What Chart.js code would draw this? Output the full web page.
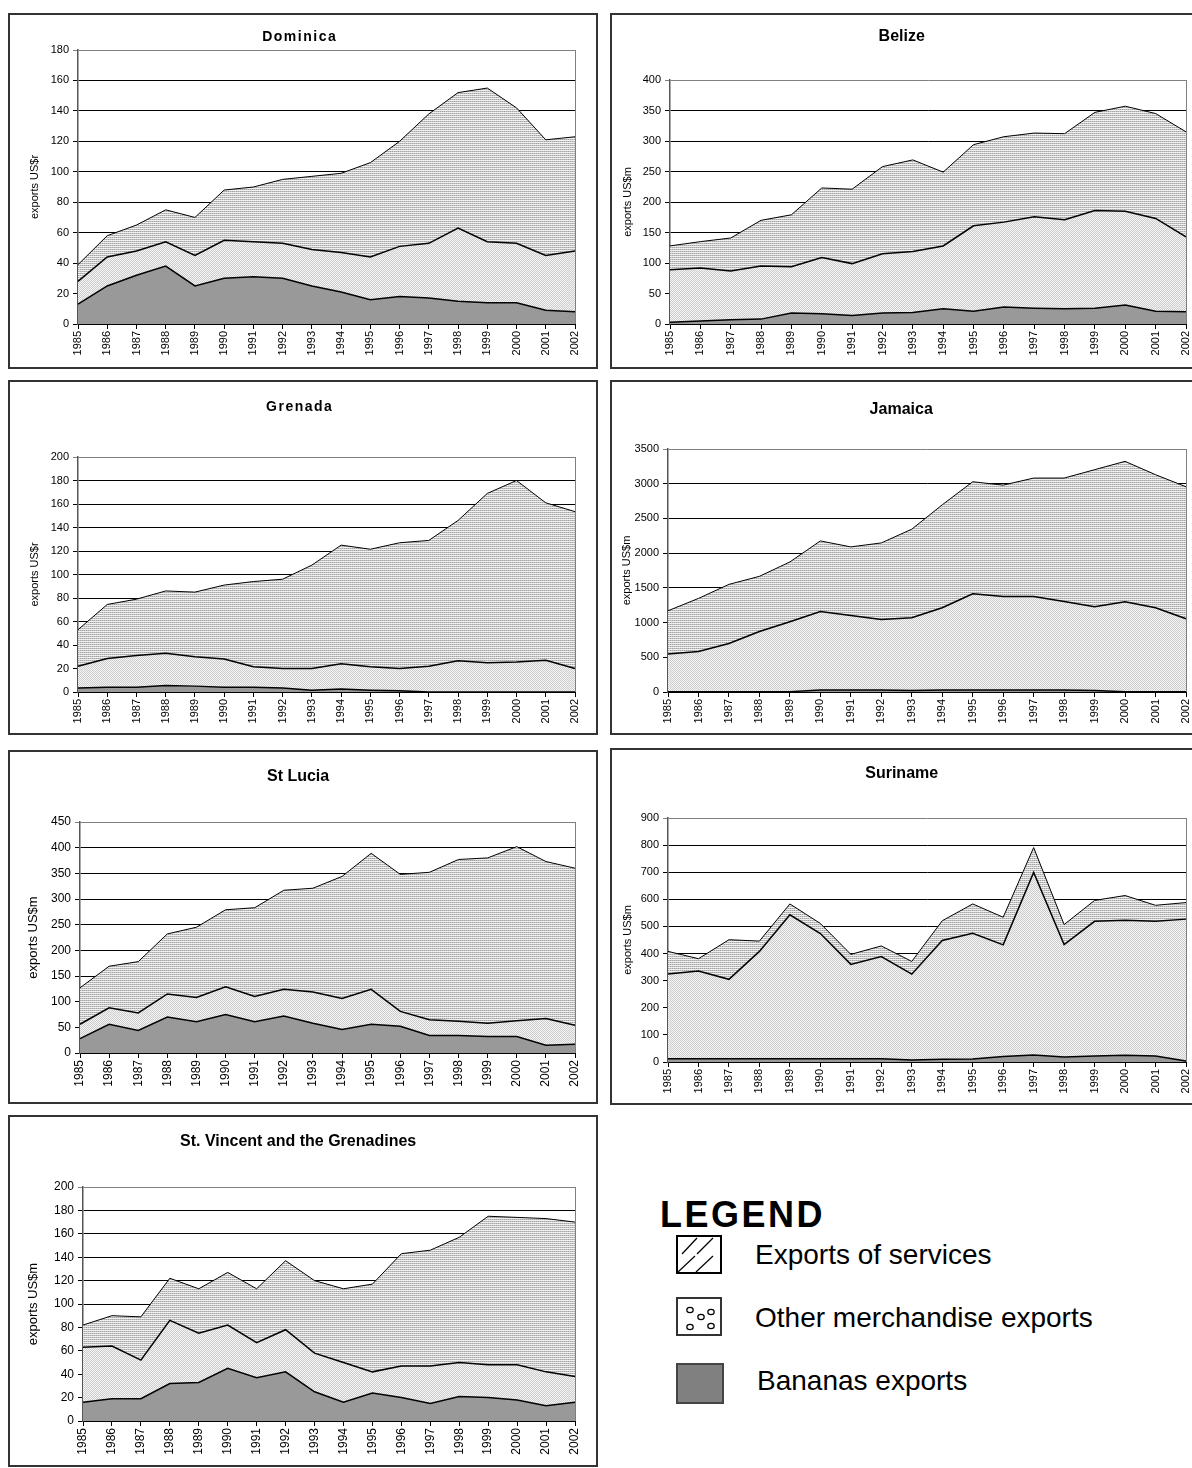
<!DOCTYPE html>
<html>
<head>
<meta charset="utf-8">
<script src="https://cdn.jsdelivr.net/npm/chart.js@4.4.0/dist/chart.umd.min.js"></script>
<style>
html, body { margin: 0; padding: 0; background: #fff; }
body { width: 1192px; height: 1468px; overflow: hidden; position: relative; font-family: "Liberation Sans", Arial, sans-serif; }
.panel { position: absolute; border: 2px solid #333; box-sizing: border-box; background: #fff; overflow: hidden; }
.panel canvas { position: absolute; left: 0; top: 0; }
.legend-title { position: absolute; left: 660px; top: 1194px; font-size: 36px; line-height: 42px; font-weight: bold; letter-spacing: 2.5px; }
.legend-item { position: absolute; font-size: 28px; line-height: 32px; color: #000; }
.legend-icon { position: absolute; }
</style>
</head>
<body>

<div class="legend-title">LEGEND</div>
<canvas class="legend-icon" id="iconServices" width="46" height="39" style="left:676px;top:1235px"></canvas>
<div class="legend-item" style="left:755px;top:1239px">Exports of services</div>
<canvas class="legend-icon" id="iconOther" width="46" height="39" style="left:676px;top:1297px"></canvas>
<div class="legend-item" style="left:755px;top:1302px">Other merchandise exports</div>
<canvas class="legend-icon" id="iconBananas" width="48" height="41" style="left:676px;top:1363px"></canvas>
<div class="legend-item" style="left:757px;top:1365px">Bananas exports</div>

<script>

// ==========================================
// Data
// ==========================================

const years = ["1985", "1986", "1987", "1988", "1989", "1990", "1991", "1992", "1993",
    "1994", "1995", "1996", "1997", "1998", "1999", "2000", "2001", "2002"];

const seriesNames = ["Bananas exports", "Other merchandise exports", "Exports of services"];

const dominicaBananas = [13, 25, 32, 38, 25, 30, 31, 30, 25, 21, 16, 18, 17, 15, 14, 14, 9, 8];
const dominicaOther = [15, 19, 16, 16, 20, 25, 23, 23, 24, 26, 28, 33, 36, 48, 40, 39, 36, 40];
const dominicaServices = [11, 14, 17, 21, 25, 33, 36, 42, 48, 52, 62, 69, 85, 89, 101, 89, 76, 75];

const belizeBananas = [3, 5, 7, 8, 18, 17, 14, 18, 19, 25, 21, 28, 26, 25, 26, 31, 21, 20];
const belizeOther = [86, 87, 80, 87, 76, 92, 85, 97, 100, 103, 140, 139, 150, 146, 160, 154, 152, 123];
const belizeServices = [39, 43, 54, 75, 85, 114, 122, 143, 150, 121, 133, 140, 137, 141, 161, 172, 172, 172];

const grenadaBananas = [3.5, 4, 4, 5.5, 5, 4, 4, 3.5, 1.5, 2.5, 1.5, 1, 0, 0, 0, 0, 0, 0];
const grenadaOther = [18.5, 24.5, 27, 27.5, 25, 24, 17.5, 16.5, 18.5, 21.5, 20, 19, 22, 26.5, 25, 25.5, 27, 20];
const grenadaServices = [31, 46, 48, 53, 55, 63, 72.5, 76, 88, 101, 100, 107, 107, 119.5, 144, 154.5, 134, 133.5];

const jamaicaBananas = [5, 5, 5, 5, 5, 30, 30, 30, 20, 30, 30, 30, 30, 30, 20, 5, 5, 5];
const jamaicaOther = [544, 578, 693, 866, 1006, 1130, 1073, 1015, 1049, 1183, 1385, 1347, 1347, 1275, 1208, 1295, 1208, 1049];
const jamaicaServices = [621, 765, 852, 795, 862, 1016, 987, 1102, 1276, 1483, 1613, 1603, 1704, 1776, 1974, 2022, 1917, 1902];

const stLuciaBananas = [28, 56, 44, 70, 61, 75, 61, 72, 58, 46, 56, 52, 34, 34, 32, 32, 15, 17];
const stLuciaOther = [28, 32, 34, 45, 47, 54, 49, 52, 61, 60, 68, 29, 31, 28, 26, 31, 52, 37];
const stLuciaServices = [71, 81, 100, 117, 137, 150, 173, 193, 202, 238, 265, 267, 287, 315, 322, 339, 306, 306];

const surinameBananas = [12, 12, 12, 12, 12, 12, 12, 12, 7, 10, 11, 20, 26, 18, 22, 25, 22, 4];
const surinameOther = [313, 324, 293, 396, 531, 462, 348, 377, 317, 438, 464, 412, 673, 415, 497, 498, 497, 523];
const surinameServices = [83, 45, 146, 38, 40, 37, 37, 39, 47, 73, 108, 102, 92, 74, 77, 91, 59, 61];

const stVincentBananas = [16, 19, 19, 32, 33, 45, 37, 42, 25, 16, 24, 20, 15, 21, 20, 18, 13, 16];
const stVincentOther = [47, 45, 33, 54, 42, 37, 30, 36, 33, 34, 18, 27, 32, 29, 28, 30, 29, 22];
const stVincentServices = [19, 26, 37, 36, 38, 45, 46, 59, 62, 63, 75, 96, 99, 107, 127, 126, 131, 132];

// y axis ranges (max, step)
const yMax = [180, 400, 200, 3500, 450, 900, 200];
const yStep = [20, 50, 20, 500, 50, 100, 20];


// ==========================================
// Panels (layout)
// ==========================================

const panels = [
    { title: "Dominica", unit: "exports US$r", data: [dominicaBananas, dominicaOther, dominicaServices],
      box: [8, 13, 590, 356], plot: [78, 50, 575, 324], titleY: 37, titleSize: 14, titleSpacing: "1.5px",
      tickSize: 11, unitSize: 11, unitX: 35 },
    { title: "Belize", unit: "exports US$m", data: [belizeBananas, belizeOther, belizeServices],
      box: [610, 13, 600, 356], plot: [670, 80, 1186, 324], titleY: 37, titleSize: 16, titleSpacing: "0px",
      tickSize: 11, unitSize: 11, unitX: 628 },
    { title: "Grenada", unit: "exports US$r", data: [grenadaBananas, grenadaOther, grenadaServices],
      box: [8, 380, 590, 355], plot: [78, 457, 575, 692], titleY: 407, titleSize: 14, titleSpacing: "1.5px",
      tickSize: 11, unitSize: 11, unitX: 35 },
    { title: "Jamaica", unit: "exports US$m", data: [jamaicaBananas, jamaicaOther, jamaicaServices],
      box: [610, 380, 600, 355], plot: [668, 449, 1186, 692], titleY: 410, titleSize: 16, titleSpacing: "0px",
      tickSize: 11, unitSize: 11, unitX: 627 },
    { title: "St Lucia", unit: "exports US$m", data: [stLuciaBananas, stLuciaOther, stLuciaServices],
      box: [8, 750, 590, 354], plot: [80, 822, 575, 1053], titleY: 777, titleSize: 16, titleSpacing: "0px",
      tickSize: 12, unitSize: 13, unitX: 33 },
    { title: "Suriname", unit: "exports US$m", data: [surinameBananas, surinameOther, surinameServices],
      box: [610, 748, 600, 357], plot: [668, 818, 1186, 1062], titleY: 774, titleSize: 16, titleSpacing: "0px",
      tickSize: 11, unitSize: 11, unitX: 628 },
    { title: "St. Vincent and the Grenadines", unit: "exports US$m", data: [stVincentBananas, stVincentOther, stVincentServices],
      box: [8, 1115, 590, 352], plot: [83, 1187, 575, 1421], titleY: 1142, titleSize: 16, titleSpacing: "0px",
      tickSize: 12, unitSize: 13, unitX: 33 }
];


// ==========================================
// Fill patterns
// ==========================================

function makePattern(draw, w, h) {

    const c = document.createElement("canvas");
    c.width = w;
    c.height = h;
    draw(c.getContext("2d"));
    return c.getContext("2d").createPattern(c, "repeat");

}

const servicesPattern = makePattern(ctx => {
    ctx.fillStyle = "#efefef";
    ctx.fillRect(0, 0, 2, 2);
    ctx.fillStyle = "#a2a2a2";
    ctx.fillRect(0, 0, 1, 1);
    ctx.fillStyle = "#c6c6c6";
    ctx.fillRect(1, 0, 1, 1);
}, 2, 2);

const otherPattern = makePattern(ctx => {
    ctx.fillStyle = "#f4f4f4";
    ctx.fillRect(0, 0, 2, 2);
    ctx.fillStyle = "#cdcdcd";
    ctx.fillRect(0, 0, 1, 1);
    ctx.fillRect(1, 1, 1, 1);
}, 2, 2);

const bananasFill = "#999999";


// ==========================================
// Plot frame (gray right border) and title spacing
// ==========================================

const plotFrame = {
    id: "plotFrame",
    beforeDraw(chart, args, opts) {
        const tb = chart.titleBlock;
        if (tb && !tb._spaced) {
            const draw = tb.draw.bind(tb);
            tb.draw = (...a) => {
                chart.ctx.letterSpacing = opts.spacing || "0px";
                draw(...a);
                chart.ctx.letterSpacing = "0px";
            };
            tb._spaced = true;
        }
    },
    afterDatasetsDraw(chart) {
        const a = chart.chartArea;
        const ctx = chart.ctx;
        ctx.save();
        ctx.strokeStyle = "#808080";
        ctx.lineWidth = 1;
        ctx.beginPath();
        ctx.moveTo(a.right + 0.5, a.top);
        ctx.lineTo(a.right + 0.5, a.bottom);
        ctx.stroke();
        ctx.restore();
    }
};


// ==========================================
// Build charts
// ==========================================

panels.forEach((p, i) => {

    const [bx, by, bw, bh] = p.box;
    const [pl, pt, pr, pb] = p.plot;
    const innerL = bx + 2, innerT = by + 2, innerR = bx + bw - 2, innerB = by + bh - 2;

    const div = document.createElement("div");
    div.className = "panel";
    div.style.left = bx + "px";
    div.style.top = by + "px";
    div.style.width = bw + "px";
    div.style.height = bh + "px";

    const canvas = document.createElement("canvas");
    canvas.width = bw - 4;
    canvas.height = bh - 4;
    div.appendChild(canvas);
    document.body.appendChild(div);

    const titleLine = p.titleSize * 1.2;
    const titleTop = p.titleY - innerT - titleLine / 2;
    const titleBottom = pt - innerT - titleTop - titleLine;

    const unitLine = p.unitSize * 1.2;
    const padLeft = Math.max(0, p.unitX - innerL - 4 - unitLine / 2);
    const yWidth = pl - innerL - padLeft;
    const xHeight = innerB - pb;

    const fills = [bananasFill, otherPattern, servicesPattern];
    const widths = [1.5, 1.5, 1];

    new Chart(canvas.getContext("2d"), {

        type: "line",

        data: {
            labels: years,
            datasets: p.data.map((values, k) => ({
                label: seriesNames[k],
                data: values,
                fill: k === 0 ? "origin" : "-1",
                backgroundColor: fills[k],
                borderColor: "#000",
                borderWidth: widths[k],
                pointRadius: 0,
                tension: 0
            }))
        },

        options: {
            responsive: false,
            animation: false,
            layout: {
                padding: { left: padLeft, right: innerR - pr, top: 0, bottom: 0 }
            },
            plugins: {
                legend: { display: false },
                tooltip: { enabled: false },
                plotFrame: { spacing: p.titleSpacing },
                title: {
                    display: true,
                    text: p.title,
                    color: "#000",
                    font: { family: "Liberation Sans", size: p.titleSize, weight: "bold" },
                    padding: { top: titleTop, bottom: titleBottom }
                }
            },
            scales: {
                x: {
                    offset: false,
                    grid: {
                        display: true,
                        drawOnChartArea: false,
                        drawTicks: true,
                        tickLength: 5,
                        color: "#000"
                    },
                    border: { color: "#000", width: 2 },
                    ticks: {
                        autoSkip: false,
                        maxRotation: 90,
                        minRotation: 90,
                        padding: 2,
                        color: "#000",
                        font: { family: "Liberation Sans", size: p.tickSize }
                    },
                    afterFit(scale) { scale.height = xHeight; }
                },
                y: {
                    stacked: true,
                    min: 0,
                    max: yMax[i],
                    grid: {
                        color: ctx => (ctx.tick && ctx.tick.value === yMax[i]) ? "#808080" : "#000",
                        tickLength: 5,
                        lineWidth: 1
                    },
                    border: { color: "#555", width: 1.5 },
                    ticks: {
                        stepSize: yStep[i],
                        padding: 4,
                        color: "#000",
                        font: { family: "Liberation Sans", size: p.tickSize },
                        callback: value => String(value)
                    },
                    title: {
                        display: true,
                        text: p.unit,
                        color: "#000",
                        font: { family: "Liberation Sans", size: p.unitSize },
                        padding: 4
                    },
                    afterFit(scale) { scale.width = yWidth; }
                }
            }
        },

        plugins: [plotFrame]

    });

});


// ==========================================
// Legend icons
// ==========================================

function drawIcons() {

    let c = document.getElementById("iconServices").getContext("2d");
    c.fillStyle = "#fff";
    c.fillRect(0, 0, 46, 39);
    c.strokeStyle = "#000";
    c.lineWidth = 2;
    c.strokeRect(1, 1, 44, 37);
    c.lineWidth = 1.2;
    [[6, 19, 21, 3], [21, 19, 37, 3], [2, 37, 19, 21], [20, 37, 37, 21]].forEach(s => {
        c.beginPath();
        c.moveTo(s[0], s[1]);
        c.lineTo(s[2], s[3]);
        c.stroke();
    });

    c = document.getElementById("iconOther").getContext("2d");
    c.fillStyle = "#fff";
    c.fillRect(0, 0, 46, 39);
    c.strokeStyle = "#333";
    c.lineWidth = 2;
    c.strokeRect(1, 1, 44, 37);
    c.lineWidth = 1.2;
    c.strokeStyle = "#000";
    [[14, 13], [35, 15], [25, 20], [14, 30], [35, 29]].forEach(d => {
        c.beginPath();
        c.ellipse(d[0], d[1], 3.2, 2.7, 0, 0, Math.PI * 2);
        c.stroke();
    });

    c = document.getElementById("iconBananas").getContext("2d");
    c.fillStyle = "#808080";
    c.fillRect(1, 1, 46, 39);
    c.strokeStyle = "#444";
    c.lineWidth = 2;
    c.strokeRect(1, 1, 46, 39);

}

drawIcons();

</script>
</body>
</html>
